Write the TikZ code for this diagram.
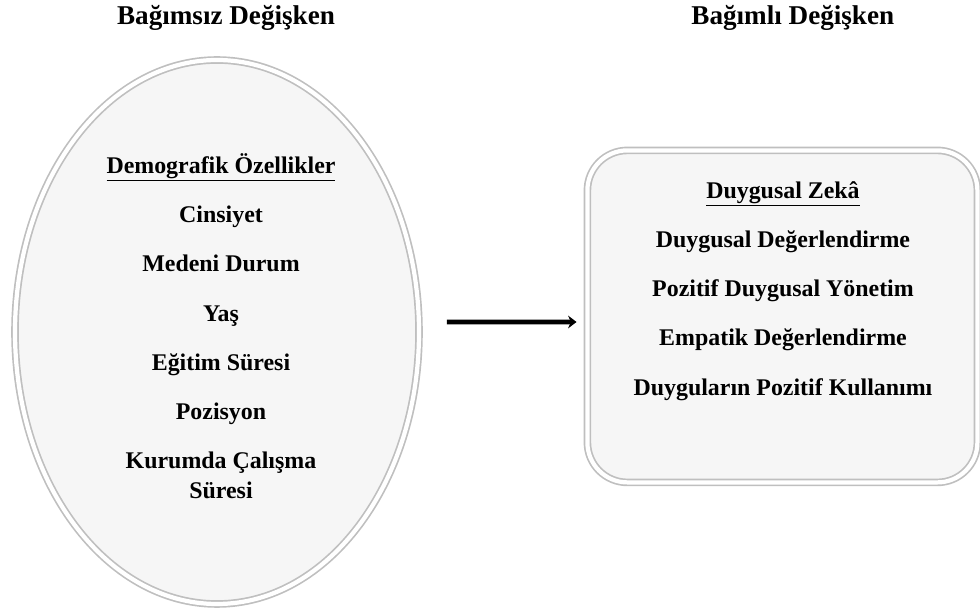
\documentclass[tikz,border=0pt]{standalone}
\usepackage{fontspec}
\setmainfont{Liberation Serif}[BoldFont={Liberation Serif Bold}]
\usetikzlibrary{shapes.geometric,arrows.meta,positioning}

\begin{document}
\begin{tikzpicture}[
  lbl/.style={font=\fontsize{17}{21}\selectfont\bfseries, align=center},
  heading/.style={font=\fontsize{19.3}{23}\selectfont\bfseries},
  varshape/.style={draw=gray!50, double=white, double distance=3pt, line width=1.2pt, fill=gray!7},
  indep/.style={varshape, ellipse, minimum width=10.1cm, minimum height=13.6cm, inner sep=0pt},
  dep/.style={varshape, rectangle, rounded corners=1cm, minimum width=9.75cm, minimum height=8.3cm},
  ptr/.style={-{Stealth[length=6pt,width=9pt]}, line width=3.3pt}
]
\useasboundingbox (0,0) rectangle (24.5,-15.225);
% titles
\node[heading] (tindep) at (5.65,-0.45) {Bağımsız Değişken};
\node[heading] (tdep) at (19.82,-0.45) {Bağımlı Değişken};
% variable shapes
\node[indep] (demog) at (5.425,-8.3) {};
\node[dep] (dzeka) at (19.56,-7.91) {};
\node[lbl] (demtxt) at (5.525,-8.15) {\underline{Demografik Özellikler}\\[14pt]Cinsiyet\\[14pt]Medeni Durum\\[14pt]Yaş\\[14pt]Eğitim Süresi\\[14pt]Pozisyon\\[14pt]Kurumda Çalışma\\Süresi};
\node[lbl] (dztxt) at (19.575,-7.275) {\underline{Duygusal Zekâ}\\[14pt]Duygusal Değerlendirme\\[14pt]Pozitif Duygusal Yönetim\\[14pt]Empatik Değerlendirme\\[14pt]Duyguların Pozitif Kullanımı};
% relation
\draw[ptr] ([xshift=0.675cm,yshift=0.25cm]demog.east) -- ([xshift=-0.25cm,yshift=-0.14cm]dzeka.west);
\end{tikzpicture}
\end{document}
